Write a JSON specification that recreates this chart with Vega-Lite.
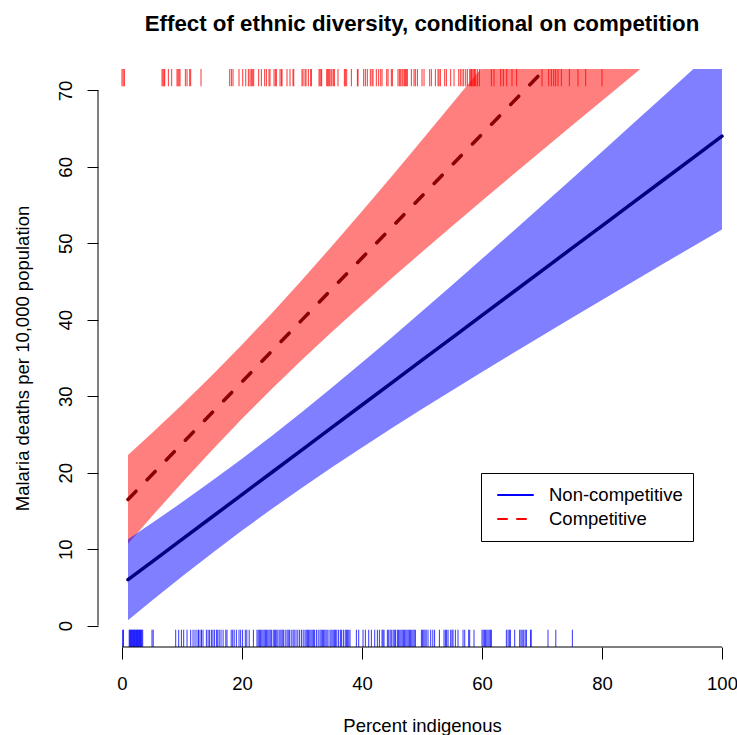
{
"$schema": "https://vega.github.io/schema/vega-lite/v6.json",
"width": 639, "height": 578,
"autosize": {"type": "none"},
"padding": {"left": 98, "top": 69, "right": 0, "bottom": 88},
"background": "white",
"config": {"view": {"stroke": null}, "font": "Liberation Sans"},
"title": {"text": "Effect of ethnic diversity, conditional on competition", "font": "Liberation Sans", "fontSize": 22.3, "fontWeight": "bold", "color": "black", "anchor": "middle", "frame": "group", "baseline": "alphabetic", "offset": 15, "dx": 4.5},
"datasets": {
"bands": [
{"x":1,"lo":0.70,"hi":11.30,"mean":6.00,"group":"Non-competitive"},
{"x":5,"lo":3.27,"hi":13.41,"mean":8.34,"group":"Non-competitive"},
{"x":10,"lo":6.42,"hi":16.12,"mean":11.27,"group":"Non-competitive"},
{"x":15,"lo":9.47,"hi":18.93,"mean":14.20,"group":"Non-competitive"},
{"x":20,"lo":12.43,"hi":21.83,"mean":17.13,"group":"Non-competitive"},
{"x":25,"lo":15.28,"hi":24.84,"mean":20.06,"group":"Non-competitive"},
{"x":30,"lo":18.04,"hi":27.94,"mean":22.99,"group":"Non-competitive"},
{"x":35,"lo":20.71,"hi":31.13,"mean":25.92,"group":"Non-competitive"},
{"x":40,"lo":23.30,"hi":34.40,"mean":28.85,"group":"Non-competitive"},
{"x":45,"lo":25.83,"hi":37.73,"mean":31.78,"group":"Non-competitive"},
{"x":50,"lo":28.32,"hi":41.10,"mean":34.71,"group":"Non-competitive"},
{"x":55,"lo":30.76,"hi":44.52,"mean":37.64,"group":"Non-competitive"},
{"x":60,"lo":33.17,"hi":47.97,"mean":40.57,"group":"Non-competitive"},
{"x":65,"lo":35.55,"hi":51.45,"mean":43.50,"group":"Non-competitive"},
{"x":70,"lo":37.91,"hi":54.95,"mean":46.43,"group":"Non-competitive"},
{"x":75,"lo":40.26,"hi":58.46,"mean":49.36,"group":"Non-competitive"},
{"x":80,"lo":42.59,"hi":61.99,"mean":52.29,"group":"Non-competitive"},
{"x":85,"lo":44.91,"hi":65.53,"mean":55.22,"group":"Non-competitive"},
{"x":90,"lo":47.22,"hi":69.08,"mean":58.15,"group":"Non-competitive"},
{"x":95,"lo":49.52,"hi":72.64,"mean":61.08,"group":"Non-competitive"},
{"x":100,"lo":51.81,"hi":76.21,"mean":64.01,"group":"Non-competitive"},
{"x":1,"lo":10.70,"hi":22.30,"mean":16.50,"group":"Competitive"},
{"x":5,"lo":14.30,"hi":25.18,"mean":19.74,"group":"Competitive"},
{"x":10,"lo":18.69,"hi":28.89,"mean":23.79,"group":"Competitive"},
{"x":15,"lo":22.94,"hi":32.74,"mean":27.84,"group":"Competitive"},
{"x":20,"lo":27.04,"hi":36.74,"mean":31.89,"group":"Competitive"},
{"x":25,"lo":30.98,"hi":40.90,"mean":35.94,"group":"Competitive"},
{"x":30,"lo":34.77,"hi":45.21,"mean":39.99,"group":"Competitive"},
{"x":35,"lo":38.43,"hi":49.65,"mean":44.04,"group":"Competitive"},
{"x":40,"lo":41.98,"hi":54.20,"mean":48.09,"group":"Competitive"},
{"x":45,"lo":45.46,"hi":58.82,"mean":52.14,"group":"Competitive"},
{"x":50,"lo":48.87,"hi":63.51,"mean":56.19,"group":"Competitive"},
{"x":55,"lo":52.24,"hi":68.24,"mean":60.24,"group":"Competitive"},
{"x":60,"lo":55.57,"hi":73.01,"mean":64.29,"group":"Competitive"},
{"x":65,"lo":58.87,"hi":77.81,"mean":68.34,"group":"Competitive"},
{"x":70,"lo":62.15,"hi":82.63,"mean":72.39,"group":"Competitive"},
{"x":75,"lo":65.41,"hi":87.47,"mean":76.44,"group":"Competitive"},
{"x":80,"lo":68.66,"hi":92.32,"mean":80.49,"group":"Competitive"},
{"x":85,"lo":71.90,"hi":97.18,"mean":84.54,"group":"Competitive"},
{"x":90,"lo":75.13,"hi":102.05,"mean":88.59,"group":"Competitive"},
{"x":95,"lo":78.35,"hi":106.93,"mean":92.64,"group":"Competitive"},
{"x":100,"lo":81.57,"hi":111.81,"mean":96.69,"group":"Competitive"}
],
"redRug": [
{"x":0.0,"group":"Competitive"},{"x":0.2,"group":"Competitive"},{"x":0.4,"group":"Competitive"},
{"x":6.67,"group":"Competitive"},{"x":6.84,"group":"Competitive"},{"x":7.0,"group":"Competitive"},{"x":7.12,"group":"Competitive"},{"x":7.73,"group":"Competitive"},{"x":8.28,"group":"Competitive"},{"x":9.17,"group":"Competitive"},{"x":9.34,"group":"Competitive"},{"x":9.51,"group":"Competitive"},{"x":9.67,"group":"Competitive"},{"x":10.56,"group":"Competitive"},{"x":10.84,"group":"Competitive"},{"x":11.28,"group":"Competitive"},{"x":11.45,"group":"Competitive"},{"x":13.17,"group":"Competitive"},{"x":17.95,"group":"Competitive"},{"x":18.23,"group":"Competitive"},{"x":18.5,"group":"Competitive"},{"x":19.5,"group":"Competitive"},{"x":20.12,"group":"Competitive"},{"x":20.62,"group":"Competitive"},{"x":21.06,"group":"Competitive"},{"x":21.34,"group":"Competitive"},{"x":21.56,"group":"Competitive"},{"x":21.78,"group":"Competitive"},{"x":21.95,"group":"Competitive"},{"x":22.78,"group":"Competitive"},{"x":23.23,"group":"Competitive"},{"x":23.78,"group":"Competitive"},{"x":24.06,"group":"Competitive"},{"x":24.5,"group":"Competitive"},{"x":24.67,"group":"Competitive"},{"x":25.34,"group":"Competitive"},{"x":25.56,"group":"Competitive"},{"x":25.73,"group":"Competitive"},{"x":26.34,"group":"Competitive"},{"x":26.56,"group":"Competitive"},{"x":26.67,"group":"Competitive"},{"x":27.5,"group":"Competitive"},{"x":28.0,"group":"Competitive"},{"x":28.5,"group":"Competitive"},{"x":28.62,"group":"Competitive"},{"x":30.0,"group":"Competitive"},{"x":30.17,"group":"Competitive"},{"x":30.51,"group":"Competitive"},{"x":30.67,"group":"Competitive"},{"x":31.06,"group":"Competitive"},{"x":31.45,"group":"Competitive"},{"x":31.56,"group":"Competitive"},{"x":32.84,"group":"Competitive"},{"x":33.0,"group":"Competitive"},{"x":33.17,"group":"Competitive"},{"x":33.28,"group":"Competitive"},{"x":34.12,"group":"Competitive"},{"x":34.28,"group":"Competitive"},{"x":34.45,"group":"Competitive"},{"x":34.62,"group":"Competitive"},{"x":34.84,"group":"Competitive"},{"x":35.0,"group":"Competitive"},{"x":35.28,"group":"Competitive"},{"x":35.39,"group":"Competitive"},{"x":36.0,"group":"Competitive"},{"x":37.06,"group":"Competitive"},{"x":37.23,"group":"Competitive"},{"x":37.45,"group":"Competitive"},{"x":38.23,"group":"Competitive"},{"x":39.23,"group":"Competitive"},{"x":39.34,"group":"Competitive"},{"x":40.28,"group":"Competitive"},{"x":40.56,"group":"Competitive"},{"x":40.89,"group":"Competitive"},{"x":41.39,"group":"Competitive"},{"x":41.67,"group":"Competitive"},{"x":41.84,"group":"Competitive"},{"x":42.39,"group":"Competitive"},{"x":42.78,"group":"Competitive"},{"x":43.12,"group":"Competitive"},{"x":43.34,"group":"Competitive"},{"x":44.12,"group":"Competitive"},{"x":44.34,"group":"Competitive"},{"x":44.89,"group":"Competitive"},{"x":45.06,"group":"Competitive"},{"x":46.0,"group":"Competitive"},{"x":46.23,"group":"Competitive"},{"x":46.45,"group":"Competitive"},{"x":46.67,"group":"Competitive"},{"x":46.84,"group":"Competitive"},{"x":47.06,"group":"Competitive"},{"x":47.23,"group":"Competitive"},{"x":47.39,"group":"Competitive"},{"x":47.56,"group":"Competitive"},{"x":48.23,"group":"Competitive"},{"x":48.67,"group":"Competitive"},{"x":48.89,"group":"Competitive"},{"x":49.23,"group":"Competitive"},{"x":50.0,"group":"Competitive"},{"x":50.34,"group":"Competitive"},{"x":51.28,"group":"Competitive"},{"x":51.56,"group":"Competitive"},{"x":52.23,"group":"Competitive"},{"x":52.67,"group":"Competitive"},{"x":52.84,"group":"Competitive"},{"x":53.06,"group":"Competitive"},{"x":53.78,"group":"Competitive"},{"x":54.06,"group":"Competitive"},{"x":54.78,"group":"Competitive"},{"x":55.34,"group":"Competitive"},{"x":56.12,"group":"Competitive"},{"x":56.39,"group":"Competitive"},{"x":56.67,"group":"Competitive"},{"x":56.95,"group":"Competitive"},{"x":57.28,"group":"Competitive"},{"x":57.56,"group":"Competitive"},{"x":57.95,"group":"Competitive"},{"x":58.12,"group":"Competitive"},{"x":58.23,"group":"Competitive"},{"x":58.34,"group":"Competitive"},{"x":58.51,"group":"Competitive"},{"x":58.67,"group":"Competitive"},{"x":58.78,"group":"Competitive"},{"x":58.95,"group":"Competitive"},{"x":59.23,"group":"Competitive"},{"x":59.56,"group":"Competitive"},{"x":61.56,"group":"Competitive"},{"x":62.0,"group":"Competitive"},{"x":63.12,"group":"Competitive"},{"x":63.56,"group":"Competitive"},{"x":64.12,"group":"Competitive"},{"x":65.0,"group":"Competitive"},{"x":65.78,"group":"Competitive"},{"x":70.0,"group":"Competitive"},{"x":71.12,"group":"Competitive"},{"x":71.56,"group":"Competitive"},{"x":71.95,"group":"Competitive"},{"x":72.28,"group":"Competitive"},{"x":72.67,"group":"Competitive"},{"x":73.23,"group":"Competitive"},{"x":74.56,"group":"Competitive"},{"x":76.0,"group":"Competitive"},{"x":77.28,"group":"Competitive"},{"x":80.0,"group":"Competitive"}
],
"blueRug": [
{"x":0.1,"group":"Non-competitive"},{"x":0.25,"group":"Non-competitive"},
{"x":1.2,"group":"Non-competitive"},{"x":1.3,"group":"Non-competitive"},{"x":1.4,"group":"Non-competitive"},{"x":1.5,"group":"Non-competitive"},{"x":1.6,"group":"Non-competitive"},{"x":1.7,"group":"Non-competitive"},{"x":1.8,"group":"Non-competitive"},{"x":1.9,"group":"Non-competitive"},{"x":2.0,"group":"Non-competitive"},{"x":2.1,"group":"Non-competitive"},{"x":2.2,"group":"Non-competitive"},{"x":2.3,"group":"Non-competitive"},{"x":2.4,"group":"Non-competitive"},{"x":2.5,"group":"Non-competitive"},{"x":2.6,"group":"Non-competitive"},{"x":2.7,"group":"Non-competitive"},{"x":2.8,"group":"Non-competitive"},{"x":2.9,"group":"Non-competitive"},{"x":3.0,"group":"Non-competitive"},{"x":3.1,"group":"Non-competitive"},{"x":3.2,"group":"Non-competitive"},{"x":3.3,"group":"Non-competitive"},{"x":3.45,"group":"Non-competitive"},
{"x":5.0,"group":"Non-competitive"},{"x":5.2,"group":"Non-competitive"},
{"x":8.95,"group":"Non-competitive"},{"x":9.45,"group":"Non-competitive"},{"x":9.9,"group":"Non-competitive"},{"x":10.28,"group":"Non-competitive"},{"x":10.84,"group":"Non-competitive"},{"x":11.45,"group":"Non-competitive"},{"x":11.84,"group":"Non-competitive"},{"x":12.17,"group":"Non-competitive"},{"x":12.5,"group":"Non-competitive"},{"x":12.75,"group":"Non-competitive"},{"x":13.0,"group":"Non-competitive"},{"x":13.25,"group":"Non-competitive"},{"x":13.5,"group":"Non-competitive"},{"x":14.06,"group":"Non-competitive"},{"x":14.35,"group":"Non-competitive"},{"x":14.6,"group":"Non-competitive"},{"x":14.9,"group":"Non-competitive"},{"x":15.15,"group":"Non-competitive"},{"x":15.4,"group":"Non-competitive"},{"x":15.73,"group":"Non-competitive"},{"x":15.95,"group":"Non-competitive"},{"x":16.2,"group":"Non-competitive"},{"x":16.5,"group":"Non-competitive"},{"x":16.85,"group":"Non-competitive"},{"x":17.3,"group":"Non-competitive"},{"x":17.5,"group":"Non-competitive"},{"x":18.2,"group":"Non-competitive"},{"x":18.45,"group":"Non-competitive"},{"x":18.7,"group":"Non-competitive"},{"x":19.06,"group":"Non-competitive"},{"x":19.5,"group":"Non-competitive"},{"x":19.78,"group":"Non-competitive"},{"x":20.1,"group":"Non-competitive"},{"x":20.55,"group":"Non-competitive"},{"x":20.8,"group":"Non-competitive"},{"x":21.2,"group":"Non-competitive"},{"x":21.9,"group":"Non-competitive"},
{"x":22.5,"group":"Non-competitive"},{"x":22.7,"group":"Non-competitive"},{"x":22.9,"group":"Non-competitive"},{"x":23.1,"group":"Non-competitive"},{"x":23.3,"group":"Non-competitive"},{"x":23.5,"group":"Non-competitive"},{"x":23.7,"group":"Non-competitive"},{"x":23.9,"group":"Non-competitive"},{"x":24.1,"group":"Non-competitive"},{"x":24.3,"group":"Non-competitive"},{"x":24.5,"group":"Non-competitive"},{"x":24.7,"group":"Non-competitive"},{"x":24.9,"group":"Non-competitive"},{"x":25.2,"group":"Non-competitive"},{"x":25.4,"group":"Non-competitive"},{"x":25.6,"group":"Non-competitive"},{"x":25.8,"group":"Non-competitive"},{"x":26.0,"group":"Non-competitive"},{"x":26.3,"group":"Non-competitive"},{"x":26.5,"group":"Non-competitive"},{"x":26.7,"group":"Non-competitive"},{"x":26.9,"group":"Non-competitive"},{"x":27.2,"group":"Non-competitive"},{"x":27.5,"group":"Non-competitive"},{"x":27.7,"group":"Non-competitive"},{"x":27.9,"group":"Non-competitive"},{"x":28.2,"group":"Non-competitive"},{"x":28.5,"group":"Non-competitive"},{"x":28.7,"group":"Non-competitive"},{"x":29.0,"group":"Non-competitive"},{"x":29.3,"group":"Non-competitive"},{"x":29.6,"group":"Non-competitive"},{"x":29.9,"group":"Non-competitive"},{"x":30.2,"group":"Non-competitive"},{"x":30.5,"group":"Non-competitive"},{"x":30.7,"group":"Non-competitive"},{"x":30.9,"group":"Non-competitive"},{"x":31.1,"group":"Non-competitive"},{"x":31.3,"group":"Non-competitive"},{"x":31.5,"group":"Non-competitive"},{"x":31.7,"group":"Non-competitive"},{"x":31.9,"group":"Non-competitive"},{"x":32.1,"group":"Non-competitive"},{"x":32.4,"group":"Non-competitive"},{"x":32.7,"group":"Non-competitive"},{"x":33.0,"group":"Non-competitive"},{"x":33.2,"group":"Non-competitive"},{"x":33.4,"group":"Non-competitive"},{"x":33.6,"group":"Non-competitive"},{"x":33.8,"group":"Non-competitive"},{"x":34.0,"group":"Non-competitive"},{"x":34.2,"group":"Non-competitive"},{"x":34.5,"group":"Non-competitive"},{"x":34.8,"group":"Non-competitive"},{"x":35.0,"group":"Non-competitive"},{"x":35.2,"group":"Non-competitive"},{"x":35.4,"group":"Non-competitive"},{"x":35.6,"group":"Non-competitive"},{"x":35.8,"group":"Non-competitive"},{"x":36.1,"group":"Non-competitive"},{"x":36.4,"group":"Non-competitive"},{"x":36.6,"group":"Non-competitive"},{"x":36.9,"group":"Non-competitive"},{"x":37.2,"group":"Non-competitive"},{"x":37.4,"group":"Non-competitive"},{"x":37.6,"group":"Non-competitive"},{"x":37.8,"group":"Non-competitive"},{"x":38.0,"group":"Non-competitive"},
{"x":39.06,"group":"Non-competitive"},{"x":39.45,"group":"Non-competitive"},{"x":40.17,"group":"Non-competitive"},{"x":40.56,"group":"Non-competitive"},{"x":41.12,"group":"Non-competitive"},{"x":41.56,"group":"Non-competitive"},{"x":42.12,"group":"Non-competitive"},{"x":42.56,"group":"Non-competitive"},{"x":42.9,"group":"Non-competitive"},{"x":43.34,"group":"Non-competitive"},{"x":43.5,"group":"Non-competitive"},{"x":43.67,"group":"Non-competitive"},{"x":44.23,"group":"Non-competitive"},{"x":44.45,"group":"Non-competitive"},{"x":44.7,"group":"Non-competitive"},{"x":44.95,"group":"Non-competitive"},{"x":45.2,"group":"Non-competitive"},{"x":45.45,"group":"Non-competitive"},{"x":45.6,"group":"Non-competitive"},{"x":45.9,"group":"Non-competitive"},{"x":46.1,"group":"Non-competitive"},{"x":46.3,"group":"Non-competitive"},{"x":46.5,"group":"Non-competitive"},{"x":46.7,"group":"Non-competitive"},{"x":46.9,"group":"Non-competitive"},{"x":47.1,"group":"Non-competitive"},{"x":47.3,"group":"Non-competitive"},{"x":47.5,"group":"Non-competitive"},{"x":47.7,"group":"Non-competitive"},{"x":47.9,"group":"Non-competitive"},{"x":48.1,"group":"Non-competitive"},{"x":48.3,"group":"Non-competitive"},{"x":48.5,"group":"Non-competitive"},{"x":48.7,"group":"Non-competitive"},{"x":48.9,"group":"Non-competitive"},{"x":49.9,"group":"Non-competitive"},{"x":50.1,"group":"Non-competitive"},{"x":50.3,"group":"Non-competitive"},{"x":50.5,"group":"Non-competitive"},{"x":50.7,"group":"Non-competitive"},{"x":51.0,"group":"Non-competitive"},{"x":51.45,"group":"Non-competitive"},{"x":51.8,"group":"Non-competitive"},{"x":52.1,"group":"Non-competitive"},{"x":52.9,"group":"Non-competitive"},{"x":53.67,"group":"Non-competitive"},{"x":53.9,"group":"Non-competitive"},{"x":54.1,"group":"Non-competitive"},{"x":54.34,"group":"Non-competitive"},{"x":54.78,"group":"Non-competitive"},{"x":55.0,"group":"Non-competitive"},{"x":55.17,"group":"Non-competitive"},{"x":55.56,"group":"Non-competitive"},{"x":56.0,"group":"Non-competitive"},{"x":56.84,"group":"Non-competitive"},{"x":57.12,"group":"Non-competitive"},{"x":57.78,"group":"Non-competitive"},{"x":57.95,"group":"Non-competitive"},{"x":58.67,"group":"Non-competitive"},{"x":60.0,"group":"Non-competitive"},{"x":60.2,"group":"Non-competitive"},{"x":60.4,"group":"Non-competitive"},{"x":60.6,"group":"Non-competitive"},{"x":60.8,"group":"Non-competitive"},{"x":61.0,"group":"Non-competitive"},{"x":61.2,"group":"Non-competitive"},{"x":61.4,"group":"Non-competitive"},{"x":61.56,"group":"Non-competitive"},{"x":64.06,"group":"Non-competitive"},{"x":64.34,"group":"Non-competitive"},{"x":64.55,"group":"Non-competitive"},{"x":64.73,"group":"Non-competitive"},{"x":65.45,"group":"Non-competitive"},{"x":66.28,"group":"Non-competitive"},{"x":66.5,"group":"Non-competitive"},{"x":66.7,"group":"Non-competitive"},{"x":66.95,"group":"Non-competitive"},{"x":67.2,"group":"Non-competitive"},{"x":67.4,"group":"Non-competitive"},{"x":68.1,"group":"Non-competitive"},{"x":68.2,"group":"Non-competitive"},{"x":71.0,"group":"Non-competitive"},{"x":72.3,"group":"Non-competitive"},{"x":75.06,"group":"Non-competitive"}
]
},
"layer": [
{
"data": {"name": "bands"},
"transform": [{"filter": "datum.group === 'Competitive'"}],
"mark": {"type": "area", "clip": true, "color": "#FF0000", "opacity": 0.5},
"encoding": {
"x": {"field": "x", "type": "quantitative", "scale": {"domain": [-4, 102.5], "nice": false, "zero": false},
"axis": {"values": [0, 20, 40, 60, 80, 100], "domain": false, "grid": false, "tickSize": 12, "tickColor": "black", "tickWidth": 1, "labelFont": "Liberation Sans", "labelFontSize": 18.5, "labelColor": "black", "labelPadding": 15, "labelFlush": false, "labelOverlap": false, "title": "Percent indigenous", "titleFont": "Liberation Sans", "titleFontSize": 18.5, "titleFontWeight": "normal", "titleColor": "black", "titleX": 324, "titleY": 84, "titleAlign": "center", "titleBaseline": "alphabetic"}},
"y": {"field": "lo", "type": "quantitative", "scale": {"domain": [-2.8, 72.8], "nice": false, "zero": false},
"axis": {"values": [0, 10, 20, 30, 40, 50, 60, 70], "domain": false, "grid": false, "tickSize": 11, "tickColor": "black", "tickWidth": 1, "labelFont": "Liberation Sans", "labelFontSize": 18.5, "labelColor": "black", "labelAngle": -90, "labelAlign": "center", "labelBaseline": "alphabetic", "labelPadding": 15.3, "labelOverlap": false, "title": "Malaria deaths per 10,000 population", "titleFont": "Liberation Sans", "titleFontSize": 18.5, "titleFontWeight": "normal", "titleColor": "black", "titleAngle": -90, "titleX": -69.7, "titleY": 289, "titleAlign": "center", "titleBaseline": "alphabetic"}},
"y2": {"field": "hi"}
}
},
{
"data": {"name": "bands"},
"transform": [{"filter": "datum.group === 'Non-competitive'"}],
"mark": {"type": "area", "clip": true, "color": "#0000FF", "opacity": 0.5},
"encoding": {
"x": {"field": "x", "type": "quantitative"},
"y": {"field": "lo", "type": "quantitative"},
"y2": {"field": "hi"}
}
},
{
"data": {"name": "bands"},
"transform": [{"filter": "datum.group === 'Non-competitive'"}],
"mark": {"type": "line", "clip": true, "color": "#000080", "strokeWidth": 3.5, "strokeCap": "round"},
"encoding": {
"x": {"field": "x", "type": "quantitative"},
"y": {"field": "mean", "type": "quantitative"}
}
},
{
"data": {"name": "bands"},
"transform": [{"filter": "datum.group === 'Competitive'"}],
"mark": {"type": "line", "clip": true, "color": "#8B0000", "strokeWidth": 3.5, "strokeCap": "round", "strokeDash": [11.5, 16]},
"encoding": {
"x": {"field": "x", "type": "quantitative"},
"y": {"field": "mean", "type": "quantitative"}
}
},
{
"data": {"name": "blueRug"},
"mark": {"type": "rule", "strokeWidth": 1, "opacity": 0.8},
"encoding": {
"x": {"field": "x", "type": "quantitative"},
"y": {"datum": -2.8, "type": "quantitative"},
"y2": {"datum": -0.54},
"color": {"field": "group", "type": "nominal", "scale": {"domain": ["Non-competitive", "Competitive"], "range": ["#0000FF", "#FF0000"]},
"legend": {"title": null, "orient": "none", "legendX": 383, "legendY": 404, "direction": "vertical", "symbolType": "stroke", "symbolSize": 1225, "symbolStrokeWidth": 2, "symbolOpacity": 1, "symbolOffset": 6, "clipHeight": 24, "rowPadding": 0, "padding": 10, "labelOffset": 15, "labelFont": "Liberation Sans", "labelFontSize": 18.5, "labelColor": "black", "labelLimit": 400, "strokeColor": "black", "fillColor": "white", "cornerRadius": 0,
"encode": {"symbols": {"update": {"strokeDash": {"signal": "datum.value === 'Competitive' ? [9, 10] : [1, 0]"}, "strokeCap": {"value": "round"}}}}}}
}
},
{
"data": {"name": "redRug"},
"mark": {"type": "rule", "strokeWidth": 1, "opacity": 0.8},
"encoding": {
"x": {"field": "x", "type": "quantitative"},
"y": {"datum": 70.54, "type": "quantitative"},
"y2": {"datum": 72.8},
"color": {"field": "group", "type": "nominal"}
}
},
{
"data": {"values": [{}]},
"mark": {"type": "rule", "color": "black", "strokeWidth": 1},
"encoding": {
"x": {"datum": 0, "type": "quantitative"},
"x2": {"datum": 100},
"y": {"datum": -2.8, "type": "quantitative"}
}
},
{
"data": {"values": [{}]},
"mark": {"type": "rule", "color": "black", "strokeWidth": 1},
"encoding": {
"x": {"datum": -4, "type": "quantitative"},
"y": {"datum": 0, "type": "quantitative"},
"y2": {"datum": 70}
}
}
]
}
